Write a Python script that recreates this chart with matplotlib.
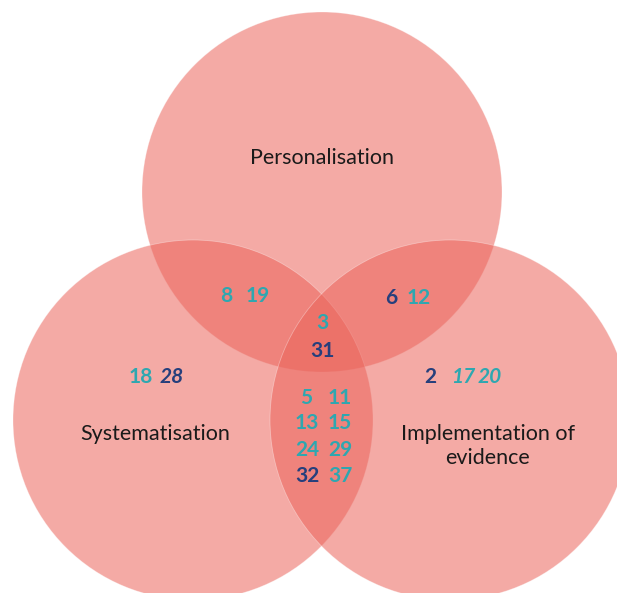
import matplotlib
matplotlib.use("Agg")
import matplotlib.pyplot as plt
from matplotlib.patches import Circle

# ---- data ----
set_names = ["Personalisation", "Systematisation", "Implementation of\nevidence"]

# region -> list of (label, group, italic)
only_pers = []
only_syst = [("18", "a", False), ("28", "b", True)]
only_impl = [("2", "b", False), ("17", "a", True), ("20", "a", True)]
pers_syst = [("8", "a", False), ("19", "a", False)]
pers_impl = [("6", "b", False), ("12", "a", False)]
syst_impl = [("5", "a", False), ("11", "a", False), ("13", "a", False), ("15", "a", False),
             ("24", "a", False), ("29", "a", False), ("32", "b", False), ("37", "a", False)]
all_three = [("3", "a", False), ("31", "b", False)]

group_colors = {"a": "#2ea7b0", "b": "#263f7c"}

# ---- figure ----
W, H = 617, 593
fig = plt.figure(figsize=(W / 100, H / 100), dpi=100)
ax = fig.add_axes([0, 0, 1, 1])
ax.set_xlim(0, W)
ax.set_ylim(H, 0)
ax.set_aspect("equal")
ax.axis("off")

R = 180
centers = [(322, 192), (193, 420), (450, 420)]
for c in centers:
    ax.add_patch(Circle(c, R, facecolor=(235/255, 100/255, 91/255, 0.55),
                        edgecolor=(1, 1, 1, 0.35), linewidth=0.6))

label_pos = [(322, 158), (155, 434), (488, 446)]
for name, (x, y) in zip(set_names, label_pos):
    ax.text(x, y, name, ha="center", va="center", fontsize=15.5, family="Lato",
            color="#1a1a1a", linespacing=1.3)

def put(items, positions):
    for (lab, grp, it), (x, y) in zip(items, positions):
        ax.text(x, y, lab, ha="center", va="center", fontsize=15, family="Lato",
                fontweight="bold", style="italic" if it else "normal",
                color=group_colors[grp])

put(pers_syst, [(226, 296), (258, 296)])
put(pers_impl, [(391, 298), (419, 298)])
put(all_three, [(322, 323), (322, 351)])
put(only_syst, [(141, 377), (172, 377)])
put(only_impl, [(430, 377), (463, 377), (490, 377)])
put(syst_impl, [(306, 398), (340, 398), (307, 423), (340, 423),
                (307, 450), (340, 450), (307, 476), (340, 476)])

fig.savefig("out.png", dpi=100)
